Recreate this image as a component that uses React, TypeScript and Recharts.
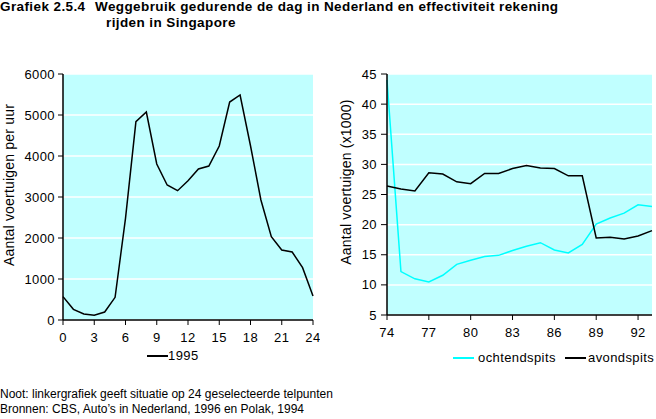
import { CartesianGrid, Line, LineChart, XAxis, YAxis } from "recharts";

const hours = [0, 1, 2, 3, 4, 5, 6, 7, 8, 9, 10, 11, 12, 13, 14, 15, 16, 17, 18, 19, 20, 21, 22, 23, 24];
const traffic1995 = [
  570, 260, 146, 114, 195, 553, 2480, 4837, 5073, 3805, 3293, 3154, 3398, 3683, 3756, 4244, 5317, 5488,
  4250, 2927, 2033, 1707, 1659, 1276, 585,
];
const hourTicks = [0, 3, 6, 9, 12, 15, 18, 21, 24];
const leftYTicks = [0, 1000, 2000, 3000, 4000, 5000, 6000];

const years = [74, 75, 76, 77, 78, 79, 80, 81, 82, 83, 84, 85, 86, 87, 88, 89, 90, 91, 92, 93];
const ochtendspits = [
  44, 12.2, 11.0, 10.5, 11.6, 13.4, 14.1, 14.7, 14.9, 15.7, 16.4, 17.0, 15.8, 15.3, 16.7, 20.1, 21.1, 21.9,
  23.3, 23.0,
];
const avondspits = [
  26.4, 25.9, 25.6, 28.6, 28.4, 27.1, 26.8, 28.5, 28.5, 29.3, 29.8, 29.4, 29.3, 28.1, 28.1, 17.8, 17.9, 17.6,
  18.1, 19.0,
];
const yearTicks = [74, 77, 80, 83, 86, 89, 92];
const rightYTicks = [5, 10, 15, 20, 25, 30, 35, 40, 45];

const FONT = '"Liberation Sans", Arial, Helvetica, sans-serif';
const BG = "#C0FFFF";
const tickStyle = { fontSize: 13, fill: "#000", fontFamily: FONT, letterSpacing: 0.4 };

const dayData = hours.map((h, i) => ({ hour: h, v: traffic1995[i] }));
const yearData = years.map((y, i) => ({ year: y, ochtend: ochtendspits[i], avond: avondspits[i] }));

const abs = (left: number, top: number, extra: React.CSSProperties = {}): React.CSSProperties => ({
  position: "absolute",
  left,
  top,
  whiteSpace: "nowrap",
  fontFamily: FONT,
  fontSize: 13,
  letterSpacing: 0.4,
  color: "#000",
  lineHeight: "15px",
  ...extra,
});

const LegendLine = ({ left, top, color }: { left: number; top: number; color: string }) => (
  <div style={{ position: "absolute", left, top, width: 21, height: 2, background: color }} />
);

const titleStyle = { fontWeight: "bold", fontSize: 13.5, letterSpacing: 0.4 } as React.CSSProperties;

export default function App() {
  return (
    <div style={{ position: "absolute", left: 0, top: 0, width: 656, height: 419, background: "#fff", overflow: "hidden" }}>
      <div style={abs(0, -1, titleStyle)}>Grafiek 2.5.4</div>
      <div style={abs(95, -1, titleStyle)}>Weggebruik gedurende de dag in Nederland en effectiviteit rekening</div>
      <div style={abs(106, 15, titleStyle)}>rijden in Singapore</div>

      <div style={{ position: "absolute", left: 0, top: 0 }}>
        <LineChart width={320} height={350} data={dayData} margin={{ top: 74, right: 7, bottom: 0, left: 0 }}>
          <CartesianGrid vertical={false} stroke="#fff" strokeWidth={1.5} fill={BG} />
          <XAxis
            dataKey="hour"
            type="number"
            domain={[0, 24]}
            ticks={hourTicks}
            height={30}
            tickSize={5}
            tickMargin={8}
            tick={tickStyle}
            axisLine={{ stroke: "#000", strokeWidth: 1.5 }}
            tickLine={{ stroke: "#000" }}
            interval={0}
          />
          <YAxis
            type="number"
            domain={[0, 6000]}
            ticks={leftYTicks}
            width={63}
            tickSize={5}
            tickMargin={3}
            tick={tickStyle}
            axisLine={{ stroke: "#000", strokeWidth: 1.5 }}
            tickLine={{ stroke: "#000" }}
            interval={0}
          />
          <Line dataKey="v" stroke="#000" strokeWidth={1.5} dot={false} isAnimationActive={false} />
        </LineChart>
      </div>

      <div style={{ position: "absolute", left: 330, top: 0 }}>
        <LineChart width={326} height={345} data={yearData} margin={{ top: 74, right: 4, bottom: 0, left: 0 }}>
          <CartesianGrid vertical={false} stroke="#fff" strokeWidth={1.5} fill={BG} />
          <XAxis
            dataKey="year"
            type="number"
            domain={[74, 93]}
            ticks={yearTicks}
            height={30}
            tickSize={5}
            tickMargin={8}
            tick={tickStyle}
            axisLine={{ stroke: "#000", strokeWidth: 1.5 }}
            tickLine={{ stroke: "#000" }}
            interval={0}
          />
          <YAxis
            type="number"
            domain={[5, 45]}
            ticks={rightYTicks}
            width={57}
            tickSize={6}
            tickMargin={4}
            tick={tickStyle}
            axisLine={{ stroke: "#000", strokeWidth: 1.5 }}
            tickLine={{ stroke: "#000" }}
            interval={0}
          />
          <Line dataKey="ochtend" stroke="#00FFFF" strokeWidth={1.5} dot={false} isAnimationActive={false} />
          <Line dataKey="avond" stroke="#000" strokeWidth={1.5} dot={false} isAnimationActive={false} />
        </LineChart>
      </div>

      <div
        style={abs(9, 185, {
          transform: "translate(-50%, -50%) rotate(-90deg)",
          fontSize: 14,
          letterSpacing: 0.2,
        })}
      >
        Aantal voertuigen per uur
      </div>
      <div
        style={abs(346, 182, {
          transform: "translate(-50%, -50%) rotate(-90deg)",
          fontSize: 14,
          letterSpacing: 0.2,
        })}
      >
        Aantal voertuigen (x1000)
      </div>

      <LegendLine left={147} top={355} color="#000" />
      <div style={abs(168, 348)}>1995</div>

      <LegendLine left={453} top={357} color="#00FFFF" />
      <div style={abs(478, 350)}>ochtendspits</div>
      <LegendLine left={565} top={357} color="#000" />
      <div style={abs(588, 350)}>avondspits</div>

      <div style={abs(0, 387, { fontSize: 12, letterSpacing: 0 })}>
        Noot: linkergrafiek geeft situatie op 24 geselecteerde telpunten
      </div>
      <div style={abs(0, 402, { fontSize: 12, letterSpacing: 0 })}>
        Bronnen: CBS, Auto’s in Nederland, 1996 en Polak, 1994
      </div>
    </div>
  );
}
